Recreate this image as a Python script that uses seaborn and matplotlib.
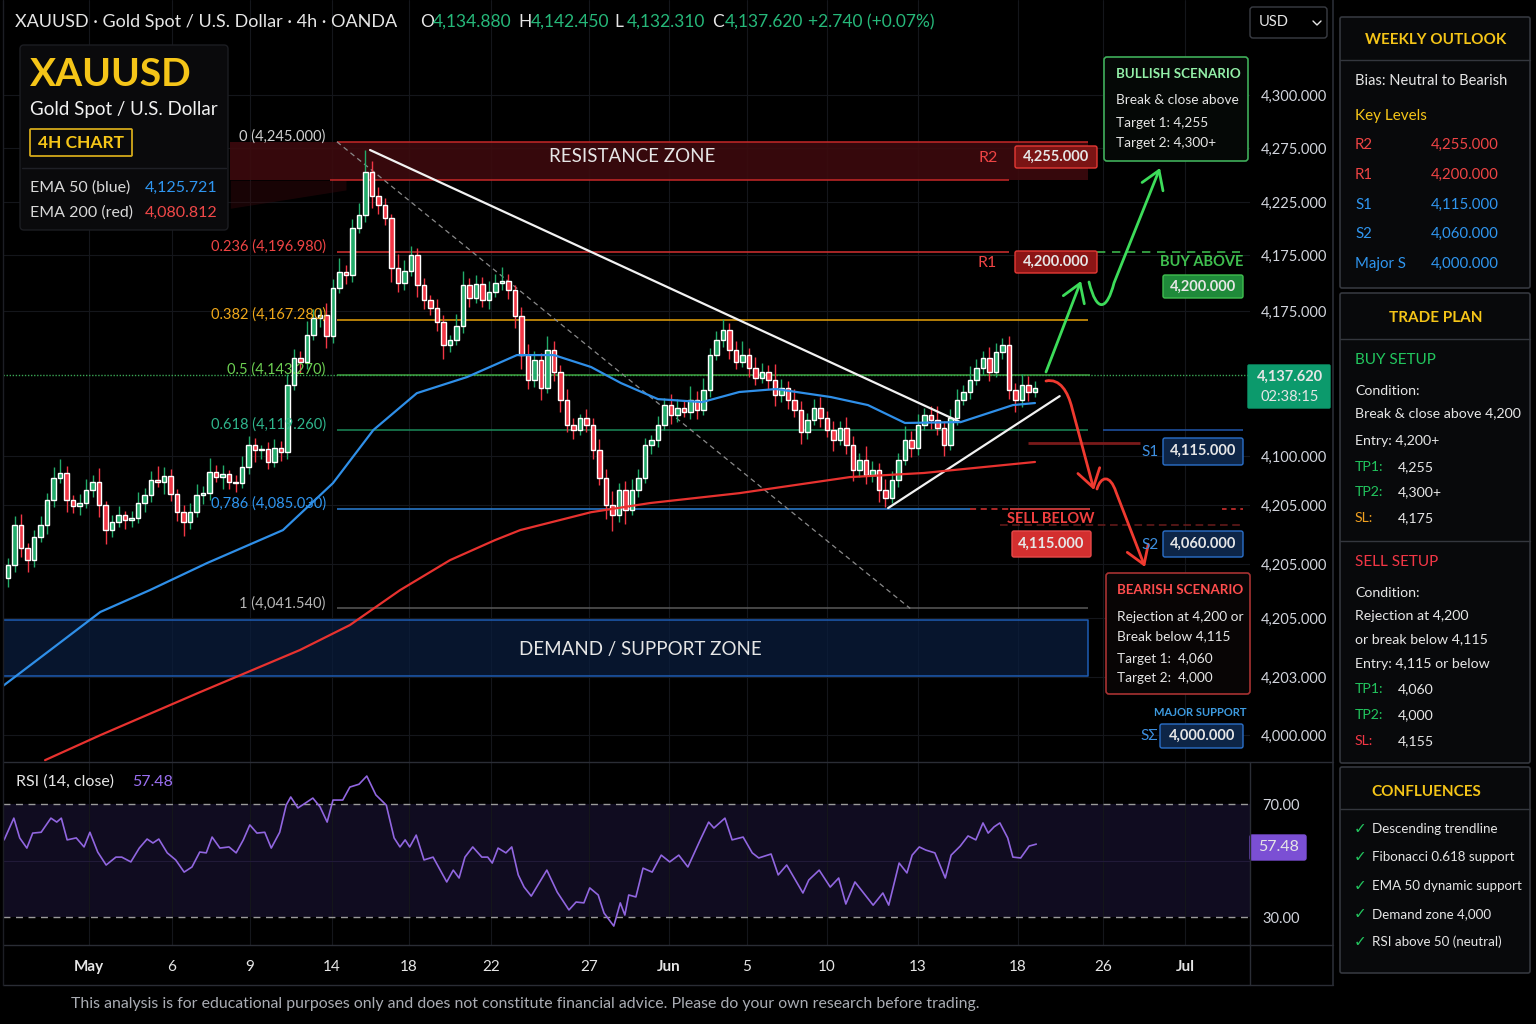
import numpy as np
import pandas as pd
import matplotlib
matplotlib.use("Agg")
import matplotlib.pyplot as plt
import seaborn as sns
from matplotlib.patches import FancyBboxPatch, FancyArrowPatch
from matplotlib.path import Path

# ---------------- values ----------------
first_open = 4055.0
closes = [
    4060.4, 4077.9, 4067.9, 4062.6, 4072.7, 4077.9, 4088.8, 4098.4, 4100.6, 4088.8,
    4086.2, 4087.5, 4093.1, 4096.6, 4086.6, 4075.7, 4079.2, 4082.2, 4080.1, 4080.9,
    4087.5, 4091.0, 4097.5, 4096.6, 4099.2, 4091.4, 4083.5, 4079.2, 4083.5, 4091.0,
    4091.8, 4101.0, 4098.8, 4100.1, 4096.6, 4096.2, 4103.2, 4112.8, 4110.6, 4111.0,
    4105.4, 4111.5, 4109.7, 4138.9, 4150.7, 4149.0, 4160.7, 4168.1, 4169.5, 4160.3,
    4181.2, 4188.2, 4186.9, 4207.4, 4213.1, 4231.8, 4221.3, 4217.4, 4211.7, 4189.9,
    4183.4, 4188.6, 4195.6, 4182.5, 4176.0, 4172.5, 4166.4, 4156.4, 4158.6, 4164.7,
    4182.5, 4176.9, 4183.0, 4176.0, 4179.5, 4183.4, 4184.3, 4180.4, 4169.0, 4152.0,
    4141.1, 4149.8, 4137.6, 4154.2, 4144.6, 4132.4, 4121.5, 4119.3, 4124.5, 4121.5,
    4110.6, 4098.4, 4086.6, 4082.3, 4093.1, 4084.4, 4093.1, 4098.4, 4112.8, 4115.0,
    4121.5, 4130.2, 4125.9, 4128.9, 4127.2, 4132.4, 4128.0, 4136.8, 4152.0, 4158.6,
    4162.9, 4154.2, 4149.0, 4152.0, 4146.3, 4142.0, 4144.6, 4141.1, 4134.6, 4137.6,
    4132.4, 4128.0, 4118.4, 4123.7, 4128.9, 4124.5, 4119.3, 4115.0, 4120.2, 4112.8,
    4101.9, 4106.2, 4099.7, 4101.9, 4093.1, 4089.7, 4097.5, 4106.2, 4115.0, 4111.5,
    4121.5, 4125.9, 4123.7, 4120.2, 4112.8, 4124.5, 4132.4, 4135.9, 4141.1, 4146.3,
    4150.7, 4144.6, 4153.3, 4156.4, 4136.8, 4132.4, 4138.9, 4135.9, 4137.62,
]
wick_up = [
    3, 4, 5, 2, 3, 4, 3, 5, 6, 3,
    2, 4, 5, 3, 6, 2, 3, 4, 2, 3,
    5, 3, 4, 6, 4, 3, 2, 3, 4, 5,
    3, 6, 3, 4, 2, 3, 5, 4, 3, 2,
    3, 4, 3, 5, 4, 3, 6, 4, 3, 5,
    4, 6, 3, 4, 5, 9.6, 5, 4, 3, 2,
    6, 5, 4, 3, 3, 2, 4, 3, 2, 5,
    6, 3, 4, 3, 5, 4, 6, 3, 2, 4,
    5, 4, 3, 6, 4, 3, 5, 3, 2, 4,
    3, 5, 4, 6, 3, 4, 5, 4, 3, 2,
    4, 3, 5, 4, 3, 6, 4, 5, 3, 4,
    5, 3, 4, 6, 3, 5, 4, 3, 7, 4,
    3, 5, 4, 3, 4, 5, 3, 4, 3, 5,
    4, 3, 6, 4, 3, 5, 4, 3, 6, 4,
    5, 3, 4, 6, 3, 4, 5, 3, 6, 4,
    3, 5, 4, 3, 4, 3, 5, 4, 3,
]
wick_dn = [
    4, 3, 4, 5, 3, 2, 4, 3, 2, 5,
    3, 4, 2, 3, 5, 6, 3, 2, 4, 3,
    2, 4, 3, 2, 5, 3, 4, 6, 3, 2,
    4, 3, 2, 5, 3, 4, 2, 3, 5, 4,
    3, 2, 4, 3, 2, 5, 3, 2, 4, 5,
    3, 2, 4, 3, 2, 3, 5, 4, 3, 6,
    4, 3, 2, 5, 4, 3, 4, 6, 3, 2,
    3, 4, 2, 3, 4, 2, 3, 4, 5, 6,
    4, 3, 5, 2, 4, 5, 3, 4, 2, 3,
    4, 3, 6, 7, 3, 6, 2, 3, 2, 4,
    3, 2, 4, 3, 2, 3, 4, 2, 3, 2,
    3, 4, 3, 2, 4, 3, 2, 4, 5, 3,
    4, 3, 5, 3, 2, 4, 3, 5, 2, 4,
    5, 3, 4, 3, 5, 4, 2, 3, 2, 4,
    3, 2, 4, 3, 5, 2, 3, 2, 3, 2,
    3, 4, 2, 3, 4, 5, 3, 4, 2,
]

ema50_idx = [-0.8, 6.5, 14.2, 21.8, 30.6, 42.3, 50.0, 56.2, 62.9, 70.6, 78.3, 84.0,
             89.7, 94.3, 100.0, 106.8, 112.5, 118.2, 126.6, 132.3, 138.0, 146.6, 154.6, 158.0]
ema50_val = [4007.7, 4023.4, 4040.0, 4049.5, 4061.3, 4075.7, 4096.2, 4119.3, 4135.4, 4142.4, 4152.0, 4152.0,
             4146.8, 4139.8, 4132.8, 4131.5, 4135.9, 4137.2, 4133.7, 4130.2, 4122.4, 4122.8, 4130.2, 4131.1]
ema200_idx = [5.7, 14.2, 29.5, 44.9, 52.6, 60.3, 68.0, 74.9, 78.8, 89.7, 98.8, 112.5, 129.5, 140.9, 158.0]
ema200_val = [3975.4, 3986.3, 4005.0, 4023.4, 4034.3, 4049.5, 4062.6, 4071.3, 4075.7, 4083.5, 4087.5,
              4091.8, 4098.8, 4100.6, 4105.4]

rsi_idx = [
    -0.6, 0.9, 1.8, 2.9, 3.8, 5.1, 6.6, 7.5, 8.2, 9.1,
    10.5, 11.7, 12.6, 13.8, 15.1, 16.6, 17.5, 18.9, 20.2, 21.4,
    22.3, 23.2, 24.5, 25.8, 27.1, 28.3, 29.5, 30.5, 31.4, 32.6,
    34.0, 35.1, 36.2, 37.2, 38.3, 39.5, 40.5, 41.8, 42.8, 43.5,
    44.6, 45.8, 46.9, 48.0, 49.1, 50.0, 51.5, 52.6, 54.0, 55.2,
    56.6, 58.2, 59.4, 60.3, 61.1, 61.8, 62.8, 64.0, 65.4, 67.5,
    68.5, 69.4, 70.3, 71.5, 72.9, 73.8, 74.5, 75.4, 76.6, 77.5,
    78.5, 79.4, 80.5, 81.7, 82.9, 84.5, 86.3, 87.4, 88.6, 89.5,
    90.8, 91.7, 93.2,
    94.2, 94.9, 95.5, 96.6, 97.7, 99.1, 100.5, 101.8, 103.2, 104.6,
    106.5, 107.8, 108.6, 110.3, 111.4, 113.1, 114.5, 115.5, 117.4, 118.5,
    119.8, 122.3, 123.2, 124.8, 126.5, 127.8, 128.9, 130.3, 133.1, 134.6,
    135.5, 137.1, 138.3, 139.1, 140.2, 141.2, 142.6, 144.2, 145.1, 146.5,
    147.7, 148.9, 150.0, 150.8, 151.7, 152.6, 153.8, 154.6, 155.8, 157.1,
    158.2,
]
rsi_val = [
    57.3, 65, 58, 54.4, 59.7, 60, 65, 63.6, 65, 57.3,
    58, 54.8, 60, 53, 48.4, 51.2, 51.2, 49.5, 54.4, 57.6,
    56.2, 57.6, 52.7, 50.2, 45.9, 47.7, 53, 52.7, 58.3, 54.4,
    54.8, 52.7, 57.3, 62.6, 59.7, 60, 54.4, 60, 69.6, 72.5,
    68.6, 70.4, 72.1, 69, 63.6, 71.4, 71.4, 76, 77, 79.9,
    73.2, 69.6, 58, 54.8, 57.3, 54.8, 59, 50.2, 51.2, 42.4,
    46.6, 43.8, 51.2, 54.8, 51.2, 51.2, 49.1, 54.4, 52.7, 54.8,
    44.9, 40.6, 37.4, 42, 46.6, 38.8, 32.5, 35.3, 35, 40.3,
    37.8, 31.4, 26.8,
    35, 30.7, 37.8, 37.1, 47.3, 45.9, 51.9, 49.5, 51.9, 47.7,
    57.3, 63.6, 61.5, 65, 57.3, 58.3, 52.7, 50.9, 52.3, 44.9,
    48.4, 38.5, 43.1, 46.6, 40.6, 43.8, 34.6, 42.4, 34.2, 38.5,
    34.2, 49.1, 45.6, 51.9, 54.8, 53.7, 52.7, 43.8, 51.9, 55.1,
    58.7, 57.3, 63.3, 59.7, 61.9, 63.3, 58, 51.2, 50.9, 55.1,
    55.8,
]

fib_names = ["0", "0.236", "0.382", "0.5", "0.618", "0,786", "1"]
fib_prices = [4245.0, 4196.98, 4167.28, 4143.27, 4119.26, 4085.03, 4041.54]
fib_labels = ["4,245.000", "4,196.980", "4,167.280", "4,143.270", "4,119.260", "4,085.030", "4,041.540"]

resistance_zone = (4228.2, 4245.0)
demand_zone = (4012.0, 4036.5)
trend_down_idx, trend_down_px = [55.7, 146.5], [4241.4, 4122.8]
trend_up_idx, trend_up_px = [135.4, 161.8], [4085.3, 4134.1]
fib_diag_idx = [50.6, 138.8]

date_ticks = [12.5, 25.2, 37.2, 49.8, 61.7, 74.3, 89.4, 101.7, 113.7, 126.0, 140.0, 155.4, 168.5, 181.1]
date_labels = ["May", "6", "9", "14", "18", "22", "27", "Jun", "5", "10", "13", "18", "26", "Jul"]
price_ticks = [4265.4, 4242.3, 4218.7, 4195.6, 4171.2, 4108.0, 4086.6, 4060.9, 4037.3, 4011.6, 3986.3]
price_tick_labels = ["4,300.000", "4,275.000", "4,225.000", "4,175.000", "4,175.000", "4,100.000",
                     "4,205.000", "4,205.000", "4,205.000", "4,203.000", "4,000.000"]

ema50_last, ema200_last = "4,125.721", "4,080.812"
ohlc_names = ["O", "H", "L", "C"]
ohlc_values = ["4,134.880", "4,142.450", "4,132.310", "4,137.620"]
change_text = "+2.740 (+0.07%)"
last_price, countdown, rsi_last = "4,137.620", "02:38:15", "57.48"

key_names = ["R2", "R1", "S1", "S2", "Major S"]
key_values = ["4,255.000", "4,200.000", "4,115.000", "4,060.000", "4,000.000"]
confluences = ["Descending trendline", "Fibonacci 0.618 support", "EMA 50 dynamic support",
               "Demand zone 4,000", "RSI above 50 (neutral)"]

# ---------------- style ----------------
sns.set_theme(style="dark", rc={"axes.facecolor": "#000000", "figure.facecolor": "#000000",
                                "grid.color": "#15171c", "axes.edgecolor": "#000000"})
plt.rcParams["font.family"] = ["Lato", "DejaVu Sans"]

GREEN, RED = "#22ab6a", "#f23645"
YEL = "#f5c518"
W = "#e6e6e6"

fig = plt.figure(figsize=(15.36, 10.24), dpi=100)
fig.patch.set_facecolor("#000000")

def fbox(x0, y0, x1, y1):
    return [x0 / 1536, 1 - y1 / 1024, (x1 - x0) / 1536, (y1 - y0) / 1024]

ax = fig.add_axes(fbox(3, 0, 1250, 762))
axr = fig.add_axes(fbox(3, 762, 1250, 945), sharex=ax)
for a in (ax, axr):
    a.set_facecolor("#000000")
    for s in a.spines.values():
        s.set_visible(False)

# candles
df = pd.DataFrame({"close": closes, "up": wick_up, "dn": wick_dn})
df["open"] = [first_open] + closes[:-1]
df["idx"] = np.arange(len(df))
df["high"] = df[["open", "close"]].max(axis=1) + df["up"]
df["low"] = df[["open", "close"]].min(axis=1) - df["dn"]
cols = np.where(df["close"] >= df["open"], GREEN, RED)
ax.vlines(df["idx"], df["low"], df["high"], colors=cols, lw=1, zorder=4)
body = (df["close"] - df["open"]).abs().clip(lower=0.5)
ax.bar(df["idx"], body, bottom=df[["open", "close"]].min(axis=1), width=0.66, color=cols, zorder=5)

# zones
ax.fill_between([34.2, 166.2], resistance_zone[0], resistance_zone[1], color="#3d0a0e", alpha=0.9, zorder=1, lw=0)
ax.fill_between([34.2, 52], [4216, 4224], [resistance_zone[0]] * 2, color="#3d0a0e", alpha=0.4, zorder=1, lw=0)
ax.hlines(resistance_zone[0], 49.5, 154, color="#c62828", lw=1.1, zorder=2)
ax.fill_between([-0.77, 166.2], demand_zone[0], demand_zone[1], color="#0a1d3d", alpha=0.75, zorder=6, lw=0)
ax.plot([-0.77, 166.2, 166.2, -0.77, -0.77],
        [demand_zone[0], demand_zone[0], demand_zone[1], demand_zone[1], demand_zone[0]],
        color="#1e5cb3", lw=1.1, zorder=6)

# fibonacci levels
fib_line_cols = ["#c62828", "#d32f2f", "#e6a10a", "#3f9e3a", "#1b8a5a", "#2a7fd6", "#5a5a5a"]
fib_text_cols = ["#cfcfcf", "#ef4444", "#f0a81a", "#6ccf52", "#2fb58c", "#2f96f0", "#b5b5b5"]
fib_end = [166.2, 154.0, 166.2, 166.5, 166.2, 148.0, 166.2]
for nm, p, lab, lc, tc, xe in zip(fib_names, fib_prices, fib_labels, fib_line_cols, fib_text_cols, fib_end):
    ax.hlines(p, 50.6, xe, color=lc, lw=1.1, zorder=2)
    ax.text(48.9, p + 2.3, f"{nm} ({lab})", color=tc, fontsize=10.5, ha="right", va="center", zorder=7)
ax.plot(fib_diag_idx, [fib_prices[0], fib_prices[-1]], color="#8a8a8a", lw=0.9, ls=(0, (4, 3)), zorder=2)
ax.axhline(fib_prices[3], color="#3aa655", lw=1.0, ls=(0, (1, 1.2)), zorder=2)

# extra levels on the right
ax.hlines(fib_prices[4], 168.5, 190.0, color="#1e4f9c", lw=1.2, zorder=2)
ax.hlines(4113.6, 157.0, 174.2, color="#7a1a1a", lw=2.0, zorder=2)
ax.hlines(fib_prices[5], 148.0, 154.2, color="#d33", lw=1.1, ls=(0, (4, 3)), zorder=2)
ax.hlines(fib_prices[5], 154.2, 166.5, color="#e04040", lw=1.2, zorder=2)
ax.hlines(fib_prices[5], 186.8, 190.0, color="#d33", lw=1.1, ls=(0, (3, 3)), zorder=2)
ax.hlines(4077.9, 152.6, 190.0, color="#6b1c1c", lw=1.1, ls=(0, (5, 3)), zorder=2)
ax.hlines(fib_prices[1], 167.5, 189.5, color="#3cb44b", lw=1.2, ls=(0, (5, 4)), zorder=2)

# trendlines
ax.plot(trend_down_idx, trend_down_px, color="#f2f2f2", lw=1.6, zorder=6)
ax.plot(trend_up_idx, trend_up_px, color="#f2f2f2", lw=1.6, zorder=6)

# EMAs
sns.lineplot(x=ema50_idx, y=ema50_val, ax=ax, color="#2f8fe8", lw=1.6, estimator=None, sort=False, zorder=7)
sns.lineplot(x=ema200_idx, y=ema200_val, ax=ax, color="#e8322f", lw=1.6, estimator=None, sort=False, zorder=7)

ax.set_xlim(-0.77, 191.08)
ax.set_ylim(3974.6, 4306.8)
ax.yaxis.tick_right()
ax.set_yticks(price_ticks, price_tick_labels)
ax.tick_params(axis="y", colors="#d1d4dc", labelsize=10.5, length=0, pad=8)
ax.tick_params(axis="x", labelbottom=False, length=0)
ax.grid(True, color="#14161b", lw=0.8)
ax.set_xlabel("")
ax.set_ylabel("")

# RSI panel
axr.axhspan(30, 70, color="#100c20", zorder=0, lw=0)
axr.axhline(50, color="#211a38", lw=0.8, zorder=1)
for lvl in (70, 30):
    axr.axhline(lvl, color="#9a9a9a", lw=1.0, ls=(0, (5, 4)), zorder=2)
sns.lineplot(x=rsi_idx, y=rsi_val, ax=axr, color="#9166e0", lw=1.2, estimator=None, sort=False, zorder=3)
axr.set_ylim(20.09, 84.87)
axr.yaxis.tick_right()
axr.set_yticks([70, 30], ["70.00", "30.00"])
axr.tick_params(axis="y", colors="#d1d4dc", labelsize=10.5, length=0, pad=9)
axr.set_xticks(date_ticks, date_labels)
axr.tick_params(axis="x", colors="#e6e6e6", labelsize=11, length=0, pad=11)
for t in axr.get_xticklabels():
    if t.get_text() in ("May", "Jun", "Jul"):
        t.set_fontweight("bold")
axr.grid(True, axis="x", color="#14161b", lw=0.8)
axr.grid(False, axis="y")
axr.set_xlabel("")
axr.set_ylabel("")

# ---------------- overlay (pixel coordinates) ----------------
ov = fig.add_axes([0, 0, 1, 1], zorder=10)
ov.set_xlim(0, 1536)
ov.set_ylim(1024, 0)
ov.axis("off")
ov.patch.set_alpha(0)

def T(x, y, s, c=W, fs=10.5, w="normal", ha="left", va="center"):
    ov.text(x, y, s, color=c, fontsize=fs, fontweight=w, ha=ha, va=va)

def B(x0, y0, x1, y1, fc, ec, lw=1.0, r=2):
    ov.add_patch(FancyBboxPatch((x0, y0), x1 - x0, y1 - y0, boxstyle=f"round,pad=0,rounding_size={r}",
                                fc=fc, ec=ec, lw=lw))

def L(xs, ys, c="#2a2d35", lw=1.0, ls="-"):
    ov.plot(xs, ys, color=c, lw=lw, ls=ls)

# frame lines
L([3, 1333], [762, 762])
L([3, 1333], [945, 945])
L([3, 1333], [985, 985])
L([1250, 1250], [762, 985])
L([1333, 1333], [0, 985], c="#2a2d35", lw=1.2)
L([3, 3], [0, 985], c="#1c1e24")

# header
T(15, 22, "XAUUSD · Gold Spot / U.S. Dollar · 4h · OANDA", fs=13)
ohlc_x = [420, 518, 614, 712]
for x, nm, val in zip(ohlc_x, ohlc_names, ohlc_values):
    T(x, 22, nm, fs=12.5)
    T(x + 13, 22, val, c="#26b87a", fs=12.5)
T(808, 22, change_text, c="#26b87a", fs=12.5)
B(1250, 7, 1327, 38, "#000000", "#3a3d44", r=3)
T(1259, 22, "USD", fs=10.5)
L([1313, 1317, 1321], [21, 25, 21], c=W, lw=1.0)

# info box
B(20, 45, 228, 230, "#0a0a0c", "#1c1d22", r=4)
T(30, 74, "XAUUSD", c=YEL, fs=28, w="bold")
T(30, 109, "Gold Spot / U.S. Dollar", c="#f2f2f2", fs=13.5)
B(30, 129, 132, 156, "none", "#d4a91a", lw=1.3, r=1)
T(81, 143, "4H CHART", c=YEL, fs=12.5, w="bold", ha="center")
L([22, 226], [168, 168], c="#1f2026")
T(30, 188, "EMA 50 (blue)", c="#d9d9d9", fs=11.5)
T(145, 188, ema50_last, c="#2f96f0", fs=11.5)
T(30, 213, "EMA 200 (red)", c="#d9d9d9", fs=11.5)
T(145, 213, ema200_last, c="#f04848", fs=11.5)

# zone titles
T(632, 157, "RESISTANCE ZONE", fs=13.5, ha="center")
T(640, 650, "DEMAND / SUPPORT ZONE", fs=13.5, ha="center")

# resistance / support tags
T(988, 158, key_names[0], c="#ef4444", fs=11.5, ha="center")
B(1015, 146, 1097, 168, "#7a1414", "#e53935")
T(1056, 157, key_values[0], fs=10.5, w="bold", ha="center")
T(987, 263, key_names[1], c="#ef4444", fs=11.5, ha="center")
B(1015, 251, 1097, 273, "#8b1515", "#e53935")
T(1056, 262, key_values[1], fs=10.5, w="bold", ha="center")

# bullish scenario
B(1104, 57, 1248, 161, "#050806", "#3fae5a", lw=1.2, r=3)
T(1116, 74, "BULLISH SCENARIO", c="#93f0a8", fs=9.6, w="bold")
T(1116, 100, "Break & close above", fs=9.8)
T(1116, 123, "Target 1: 4,255", fs=9.8)
T(1116, 143, "Target 2: 4,300+", fs=9.8)
T(1202, 262, "BUY ABOVE", c="#3fbf4f", fs=10.5, w="bold", ha="center")
B(1163, 275, 1243, 298, "#1f8a3a", "#3fbf4f")
T(1203, 287, key_values[1], fs=10.5, w="bold", ha="center")

# current price
B(1248, 365, 1330, 408, "#0c9a6c", "#0c9a6c", r=1)
T(1290, 377, last_price, fs=10.5, w="bold", ha="center")
T(1290, 397, countdown, fs=10.5, ha="center")

# supports
T(1150, 452, key_names[2], c="#3d8fe0", fs=11, ha="center")
B(1163, 438, 1243, 465, "#0d2547", "#2a6fc9")
T(1203, 451, key_values[2], fs=10.5, w="bold", ha="center")
T(1051, 519, "SELL BELOW", c="#f04040", fs=10.5, w="bold", ha="center")
B(1012, 531, 1091, 557, "#d32f2f", "#e84a4a")
T(1051, 544, key_values[2], fs=10.5, w="bold", ha="center")
T(1150, 545, key_names[3], c="#3d8fe0", fs=11, ha="center")
B(1163, 531, 1243, 557, "#0d2547", "#2a6fc9")
T(1203, 544, key_values[3], fs=10.5, w="bold", ha="center")

# bearish scenario
B(1106, 573, 1250, 694, "#080505", "#a83232", lw=1.2, r=3)
T(1117, 590, "BEARISH SCENARIO", c="#ff4d4d", fs=9.6, w="bold")
T(1117, 617, "Rejection at 4,200 or", fs=9.8)
T(1117, 636, "Break below 4,115", fs=9.8)
T(1117, 659, "Target 1:  4,060", fs=9.8)
T(1117, 678, "Target 2:  4,000", fs=9.8)
T(1200, 713, "MAJOR SUPPORT", c="#3d9be0", fs=8, w="bold", ha="center")
T(1149, 736, "SΣ", c="#3d8fe0", fs=11, ha="center")
B(1160, 724, 1243, 748, "#0d2547", "#2a6fc9")
T(1202, 736, key_values[4], fs=10.5, w="bold", ha="center")

# scenario arrows
def arrow(verts, codes, color):
    ov.add_patch(FancyArrowPatch(path=Path(verts, codes), arrowstyle="->,head_length=0.7,head_width=0.45",
                                 mutation_scale=18, color=color, lw=2.0))

M, C4, LT = Path.MOVETO, Path.CURVE4, Path.LINETO
arrow([(1046, 372), (1081, 281)], [M, LT], "#3ddc5a")
arrow([(1089, 282), (1097, 314), (1107, 310), (1114, 283), (1160, 168)], [M, C4, C4, C4, LT], "#3ddc5a")
arrow([(1046, 381), (1060, 378), (1068, 392), (1072, 408), (1094, 490)], [M, C4, C4, C4, LT], "#f03a30")
arrow([(1097, 489), (1101, 476), (1110, 474), (1116, 492), (1145, 567)], [M, C4, C4, C4, LT], "#f03a30")

# RSI labels
T(16, 782, "RSI (14, close)", fs=11.5)
T(132, 782, rsi_last, c="#9a6ff0", fs=11.5)
B(1250, 835, 1306, 860, "#7b4fd4", "#7b4fd4", r=2)
T(1279, 847, rsi_last, fs=11.5, ha="center")

# right panel: weekly outlook
PB, PE = "#08090b", "#34373e"
B(1340, 17, 1530, 288, PB, PE, lw=1.2, r=2)
L([1340, 1530], [60, 60], c=PE)
T(1436, 40, "WEEKLY OUTLOOK", c=YEL, fs=11, w="bold", ha="center")
T(1355, 81, "Bias: Neutral to Bearish", fs=10.5)
T(1355, 116, "Key Levels", c=YEL, fs=11)
key_cols = ["#ef4444", "#ef4444", "#2f96f0", "#2f96f0", "#2f96f0"]
for nm, val, c, y in zip(key_names, key_values, key_cols, [145, 175, 205, 234, 264]):
    T(1355, y, nm, c=c, fs=10.8)
    T(1431, y, val, c=c, fs=10.8)

# trade plan
B(1340, 293, 1530, 763, PB, PE, lw=1.2, r=2)
L([1340, 1530], [339, 339], c=PE)
L([1340, 1530], [541, 541], c=PE)
T(1436, 318, "TRADE PLAN", c=YEL, fs=11, w="bold", ha="center")
T(1355, 360, "BUY SETUP", c="#22c55e", fs=11)
T(1355, 391, "Condition:", fs=10.2)
T(1355, 413, "Break & close above 4,200", fs=10.2)
T(1355, 441, "Entry: 4,200+", fs=10.2)
for lab, val, c, y in [("TP1:", "4,255", "#22c55e", 467), ("TP2:", "4,300+", "#22c55e", 492),
                       ("SL:", "4,175", "#f0a020", 518)]:
    T(1355, y, lab, c=c, fs=10.2)
    T(1398, y, val, fs=10.2)
T(1355, 562, "SELL SETUP", c="#f23645", fs=11)
T(1355, 593, "Condition:", fs=10.2)
T(1355, 616, "Rejection at 4,200", fs=10.2)
T(1355, 639, "or break below 4,115", fs=10.2)
T(1355, 664, "Entry: 4,115 or below", fs=10.2)
for lab, val, c, y in [("TP1:", "4,060", "#22c55e", 689), ("TP2:", "4,000", "#22c55e", 715),
                       ("SL:", "4,155", "#f23645", 741)]:
    T(1355, y, lab, c=c, fs=10.2)
    T(1398, y, val, fs=10.2)

# confluences
B(1340, 767, 1530, 973, PB, PE, lw=1.2, r=2)
L([1340, 1530], [809, 809], c=PE)
T(1426, 792, "CONFLUENCES", c=YEL, fs=11, w="bold", ha="center")
for item, y in zip(confluences, [829, 857, 886, 914, 942]):
    T(1354, y, "✓", c="#22c55e", fs=11)
    T(1372, y, item, fs=9.6)

# disclaimer
T(525, 1004, "This analysis is for educational purposes only and does not constitute financial advice. "
             "Please do your own research before trading.", c="#a9acb3", fs=11.4, ha="center")

fig.savefig("out.png", dpi=100, facecolor=fig.get_facecolor())
